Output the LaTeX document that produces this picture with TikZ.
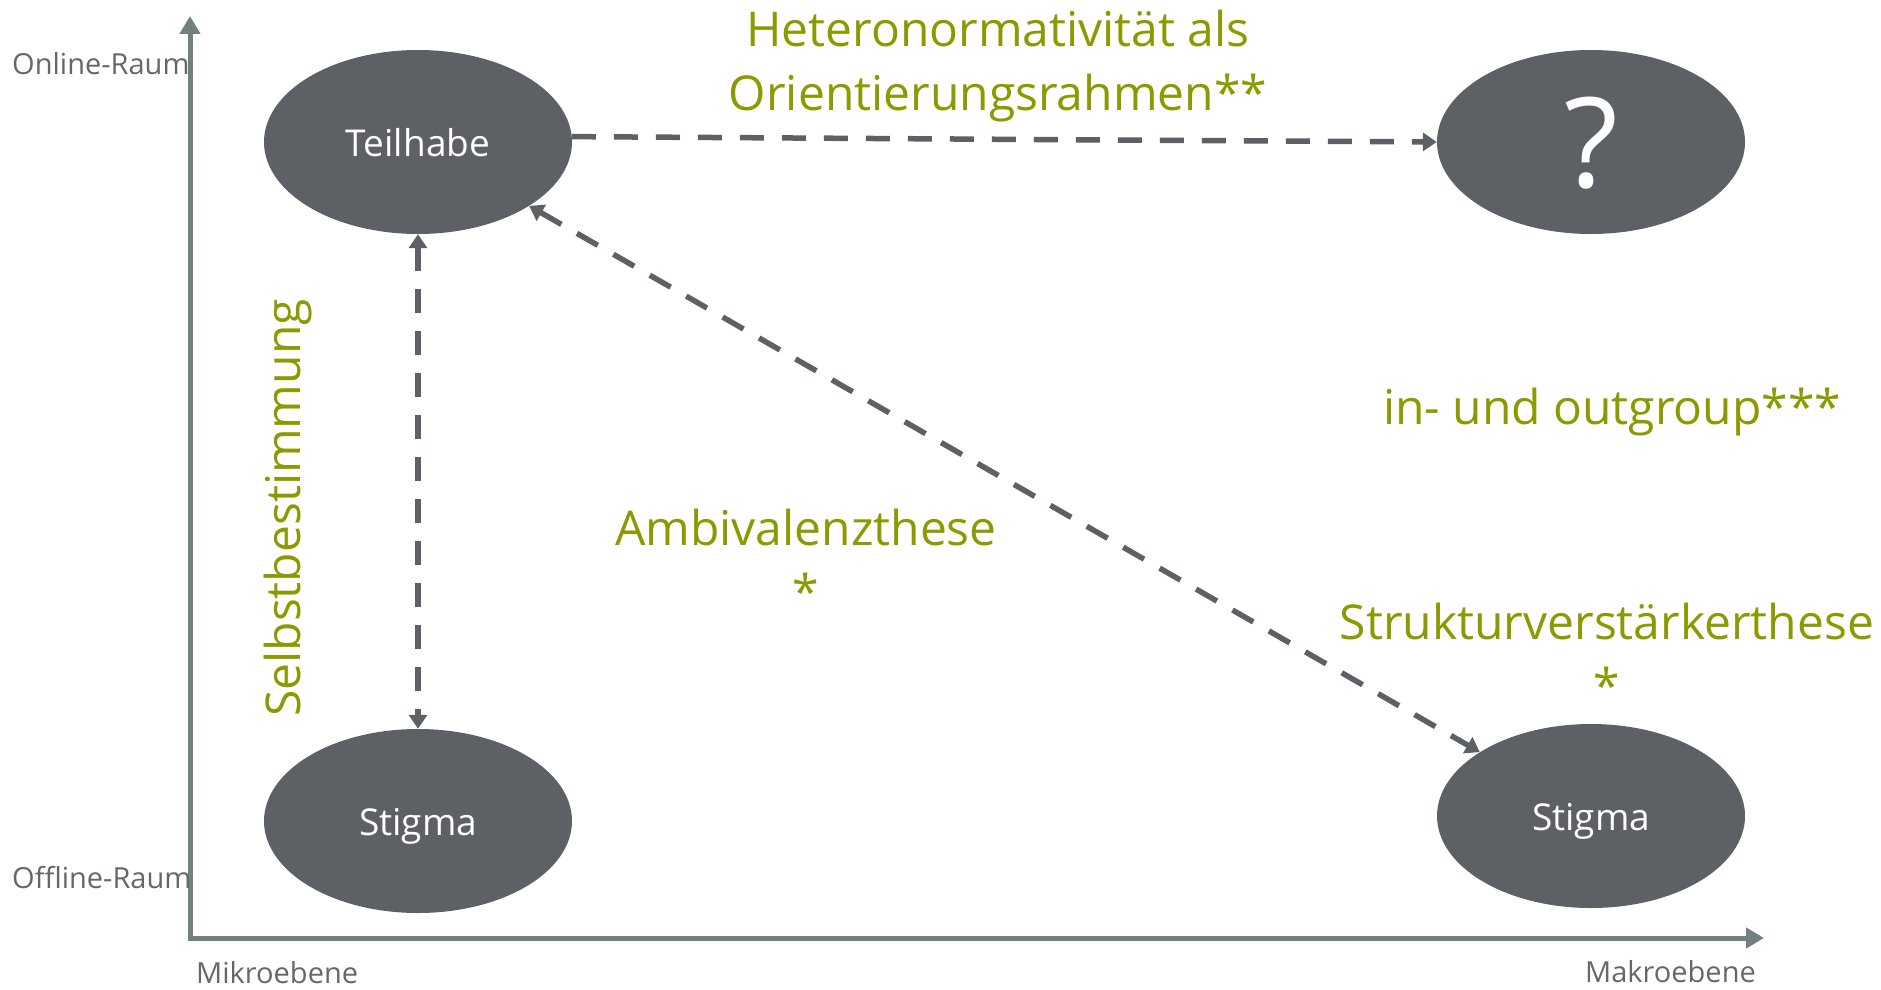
\documentclass[tikz,border=0pt]{standalone}
\usepackage{fontspec}
\setmainfont{Open Sans}
\usetikzlibrary{arrows.meta,shapes.geometric}
\definecolor{elgray}{RGB}{93,96,100}
\definecolor{axgray}{RGB}{115,128,128}
\definecolor{olive}{RGB}{139,154,0}
\definecolor{lblgray}{RGB}{100,104,106}
\tikzset{
  oval/.style={ellipse,fill=elgray,draw=none,minimum width=308pt,minimum height=184pt,inner sep=0pt,text=white,font=\fontsize{37}{44}\selectfont,text height=28pt,text depth=0pt},
  axisline/.style={draw=axgray,line width=5pt,-{Triangle[length=18pt,width=20pt]}},
  dashline/.style={draw=elgray,line width=5.5pt,dash pattern=on 24pt off 18pt},
  tipE/.style={-{Triangle[length=14pt,width=18pt]}},
  tipBoth/.style={{Triangle[length=14pt,width=18pt]}-{Triangle[length=14pt,width=18pt]}},
  axlabel/.style={text=lblgray,font=\fontsize{29}{34}\selectfont,inner sep=0pt},
  greenlbl/.style={text=olive,font=\fontsize{48}{64}\selectfont,align=center,inner sep=0pt},
}
\begin{document}
\begin{tikzpicture}[x=1pt,y=-1pt]
\useasboundingbox (0,0) rectangle (1881,990);
% axes
\coordinate (O) at (190,938);
\coordinate (Ytop) at (190,16);
\coordinate (Xend) at (1764,938);
\draw[axisline] ([yshift=-2.5pt]O) -- (Ytop);
\draw[axisline] ([xshift=-2.5pt]O) -- (Xend);
% axis labels
\node[axlabel,anchor=west] (on) at (12,64) {Online-Raum};
\node[axlabel,anchor=west] (off) at (12,878) {Offline-Raum};
\node[axlabel,anchor=west] (mik) at (196,973) {Mikroebene};
\node[axlabel,anchor=east] (mak) at (1756,972) {Makroebene};
% ellipses
\node[oval] (T) at (418,142) {Teilhabe};
\node[oval,font=\fontsize{125}{130}\selectfont,text height=90pt] (Q) at (1591,142) {?};
\node[oval] (SL) at (418,821) {Stigma};
\node[oval] (SR) at (1591,816) {Stigma};
% connectors
\draw[dashline,tipE] (T.2.5) -- (Q.west);
\draw[dashline,tipBoth] (T.south) -- (SL.north);
\draw[dashline,tipBoth] (T) -- (SR);
% green labels
\node[greenlbl] (het) at (998,66) {Heteronormativität als\\Orientierungsrahmen**};
\node[greenlbl] (inout) at (1612,412) {in- und outgroup***};
\node[greenlbl] (amb) at (806,559) {Ambivalenzthese\\*};
\node[greenlbl] (struk) at (1607,653) {Strukturverstärkerthese\\*};
\node[greenlbl,rotate=90] (selbst) at (288,508) {Selbstbestimmung};
\end{tikzpicture}
\end{document}
